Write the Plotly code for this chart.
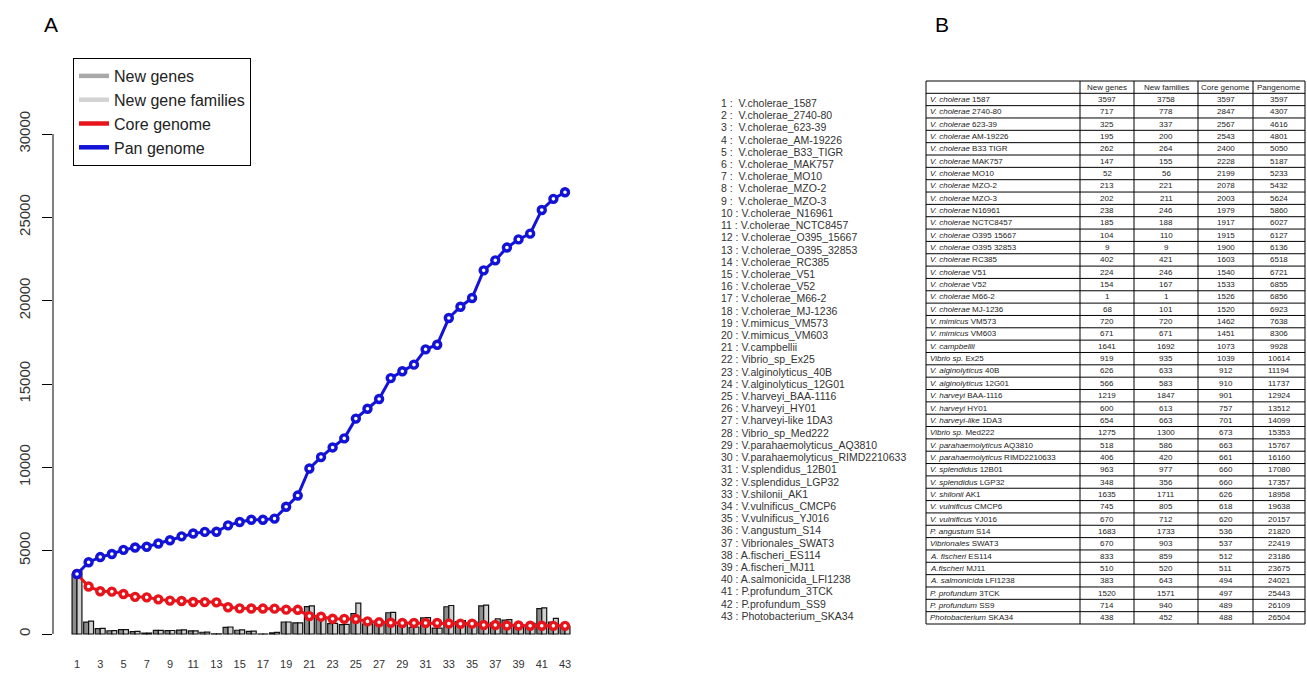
import plotly.graph_objects as go

W, H = 1307, 673

positions = list(range(1, 44))
x_tick_vals = list(range(1, 44, 2))
y_tick_vals = [0, 5000, 10000, 15000, 20000, 25000, 30000]

strain_labels = [
    "V.cholerae_1587", "V.cholerae_2740-80", "V.cholerae_623-39", "V.cholerae_AM-19226",
    "V.cholerae_B33_TIGR", "V.cholerae_MAK757", "V.cholerae_MO10", "V.cholerae_MZO-2",
    "V.cholerae_MZO-3", "V.cholerae_N16961", "V.cholerae_NCTC8457", "V.cholerae_O395_15667",
    "V.cholerae_O395_32853", "V.cholerae_RC385", "V.cholerae_V51", "V.cholerae_V52",
    "V.cholerae_M66-2", "V.cholerae_MJ-1236", "V.mimicus_VM573", "V.mimicus_VM603",
    "V.campbellii", "Vibrio_sp_Ex25", "V.alginolyticus_40B", "V.alginolyticus_12G01",
    "V.harveyi_BAA-1116", "V.harveyi_HY01", "V.harveyi-like 1DA3", "Vibrio_sp_Med222",
    "V.parahaemolyticus_AQ3810", "V.parahaemolyticus_RIMD2210633", "V.splendidus_12B01",
    "V.splendidus_LGP32", "V.shilonii_AK1", "V.vulnificus_CMCP6", "V.vulnificus_YJ016",
    "V.angustum_S14", "Vibrionales_SWAT3", "A.fischeri_ES114", "A.fischeri_MJ11",
    "A.salmonicida_LFI1238", "P.profundum_3TCK", "P.profundum_SS9", "Photobacterium_SKA34",
]

table_species = [
    "V. cholerae", "V. cholerae", "V. cholerae", "V. cholerae", "V. cholerae", "V. cholerae",
    "V. cholerae", "V. cholerae", "V. cholerae", "V. cholerae", "V. cholerae", "V. cholerae",
    "V. cholerae", "V. cholerae", "V. cholerae", "V. cholerae", "V. cholerae", "V. cholerae",
    "V. mimicus", "V. mimicus", "V. campbellii", "Vibrio sp.", "V. alginolyticus",
    "V. alginolyticus", "V. harveyi", "V. harveyi", "V. harveyi-like", "Vibrio sp.",
    "V. parahaemolyticus", "V. parahaemolyticus", "V. splendidus", "V. splendidus",
    "V. shilonii", "V. vulnificus", "V. vulnificus", "P. angustum", "Vibrionales",
    "A. fischeri", "A.fischeri", "A. salmonicida", "P. profundum", "P. profundum",
    "Photobacterium",
]
table_strains = [
    "1587", "2740-80", "623-39", "AM-19226", "B33 TIGR", "MAK757", "MO10", "MZO-2", "MZO-3",
    "N16961", "NCTC8457", "O395 15667", "O395 32853", "RC385", "V51", "V52", "M66-2",
    "MJ-1236", "VM573", "VM603", "", "Ex25", "40B", "12G01", "BAA-1116", "HY01", "1DA3",
    "Med222", "AQ3810", "RIMD2210633", "12B01", "LGP32", "AK1", "CMCP6", "YJ016", "S14",
    "SWAT3", "ES114", "MJ11", "LFI1238", "3TCK", "SS9", "SKA34",
]

new_genes = [3597, 717, 325, 195, 262, 147, 52, 213, 202, 238, 185, 104, 9, 402, 224, 154, 1, 68,
             720, 671, 1641, 919, 626, 566, 1219, 600, 654, 1275, 518, 406, 963, 348, 1635, 745,
             670, 1683, 670, 833, 510, 383, 1520, 714, 438]
new_families = [3758, 778, 337, 200, 264, 155, 56, 221, 211, 246, 188, 110, 9, 421, 246, 167, 1,
                101, 720, 671, 1692, 935, 633, 583, 1847, 613, 663, 1300, 586, 420, 977, 356, 1711,
                805, 712, 1733, 903, 859, 520, 643, 1571, 940, 452]
core_genome = [3597, 2847, 2567, 2543, 2400, 2228, 2199, 2078, 2003, 1979, 1917, 1915, 1900, 1603,
               1540, 1533, 1526, 1520, 1462, 1451, 1073, 1039, 912, 910, 901, 757, 701, 673, 663,
               661, 660, 660, 626, 618, 620, 536, 537, 512, 511, 494, 497, 489, 488]
pan_genome = [3597, 4307, 4616, 4801, 5050, 5187, 5233, 5432, 5624, 5860, 6027, 6127, 6136, 6518,
              6721, 6855, 6856, 6923, 7638, 8306, 9928, 10614, 11194, 11737, 12924, 13512, 14099,
              15353, 15767, 16160, 17080, 17357, 18958, 19638, 20157, 21820, 22419, 23186, 23675,
              24021, 25443, 26109, 26504]

table_header = ["", "New genes", "New families", "Core genome", "Pangenome"]

C_NEW = "#a9a9a9"
C_FAM = "#d3d3d3"
C_CORE = "#e8141b"
C_PAN = "#1212d8"
FONT = "Liberation Sans, Arial, sans-serif"


def px_x(v):
    return v / W


def px_y(v):
    return 1 - v / H


fig = go.Figure()

fig.add_trace(go.Bar(x=positions, y=new_genes, name="New genes", showlegend=False,
                     marker=dict(color="#8c8c8c", line=dict(color="#111111", width=1.2))))
fig.add_trace(go.Bar(x=positions, y=new_families, name="New gene families", showlegend=False,
                     marker=dict(color="#d0d0d0", line=dict(color="#111111", width=1.2))))

fig.add_trace(go.Scatter(x=positions, y=core_genome, mode="lines+markers", showlegend=False,
                         line=dict(color=C_CORE, width=3),
                         marker=dict(symbol="circle", size=7, color="white",
                                     line=dict(color=C_CORE, width=3.4))))
fig.add_trace(go.Scatter(x=positions, y=pan_genome, mode="lines+markers", showlegend=False,
                         line=dict(color=C_PAN, width=3),
                         marker=dict(symbol="circle", size=7, color="white",
                                     line=dict(color=C_PAN, width=3.4))))

# legend entries (line keys as in the reference)
for nm, col in [("New genes", C_NEW), ("New gene families", C_FAM),
                ("Core genome", C_CORE), ("Pan genome", C_PAN)]:
    fig.add_trace(go.Scatter(x=[None], y=[None], mode="lines", name=nm,
                             line=dict(color=col, width=4.5)))

# plot area geometry (margins zero, axes placed by domain so paper == full figure)
left_px, right_px, top_px, bottom_px = 53, 580, 50, 640
fig.update_layout(
    width=W, height=H,
    margin=dict(l=0, r=0, t=0, b=0),
    paper_bgcolor="white", plot_bgcolor="white",
    barmode="group", bargap=0.15, bargroupgap=0.0,
    font=dict(family=FONT, color="#222"),
    legend=dict(x=px_x(73), y=px_y(58), xanchor="left", yanchor="top",
                xref="paper", yref="paper",
                bgcolor="white", bordercolor="black", borderwidth=1,
                font=dict(size=16, family=FONT, color="#222"),
                itemwidth=30, tracegroupgap=0),
    xaxis=dict(domain=[px_x(left_px), px_x(right_px)], range=[-1.065, 44.29],
               tickvals=x_tick_vals, ticks="", showline=False,
               showgrid=False, zeroline=False, ticklabelstandoff=16,
               tickfont=dict(size=11, color="#333", family=FONT)),
    yaxis=dict(domain=[px_y(bottom_px), px_y(top_px)], range=[-360, 35040],
               tickvals=y_tick_vals, tickformat="d", ticks="outside", ticklen=10,
               tickcolor="black", showline=False, showgrid=False, zeroline=False,
               tickangle=-90, ticklabelstandoff=6,
               tickfont=dict(size=15, color="#333", family=FONT)),
)

shapes = [dict(type="line", xref="x domain", yref="y", x0=0, x1=0, y0=0, y1=30000,
               line=dict(color="black", width=1))]
annotations = [
    dict(text="A", x=px_x(42), y=px_y(25), xref="paper", yref="paper", showarrow=False,
         xanchor="left", yanchor="middle", font=dict(size=21, family=FONT, color="black")),
    dict(text="B", x=px_x(933), y=px_y(25), xref="paper", yref="paper", showarrow=False,
         xanchor="left", yanchor="middle", font=dict(size=21, family=FONT, color="black")),
]

# numbered strain list
for i, name in enumerate(strain_labels):
    n = i + 1
    label = f"{n} :  {name}" if n < 10 else f"{n} : {name}"
    annotations.append(dict(
        text=label, x=px_x(719), y=px_y(103 + i * 12.21), xref="paper", yref="paper",
        showarrow=False, xanchor="left", yanchor="middle",
        font=dict(size=10.5, family=FONT, color="#333")))

# table (panel B), drawn as grid lines + cell texts
col_edges = [926, 1080, 1134, 1198, 1253, 1305]
t_top, t_head, t_bottom = 81, 93.3, 624
n_rows = len(table_species)
row_h = (t_bottom - t_head) / n_rows
row_edges = [t_top, t_head] + [t_head + (k + 1) * row_h for k in range(n_rows)]
for ry in row_edges:
    shapes.append(dict(type="line", xref="paper", yref="paper",
                       x0=px_x(col_edges[0]), x1=px_x(col_edges[-1]), y0=px_y(ry), y1=px_y(ry),
                       line=dict(color="black", width=1)))
for cx in col_edges:
    shapes.append(dict(type="line", xref="paper", yref="paper",
                       x0=px_x(cx), x1=px_x(cx), y0=px_y(t_top), y1=px_y(t_bottom),
                       line=dict(color="black", width=1)))

TF = dict(size=8, family=FONT, color="#222")
for j, head in enumerate(table_header):
    if head:
        annotations.append(dict(text=head, x=px_x((col_edges[j] + col_edges[j + 1]) / 2),
                                y=px_y((t_top + t_head) / 2), xref="paper", yref="paper",
                                showarrow=False, xanchor="center", yanchor="middle",
                                font=TF, borderpad=0))
columns = [new_genes, new_families, core_genome, pan_genome]
for r in range(n_rows):
    cy = px_y(t_head + (r + 0.5) * row_h)
    first = f"<i>{table_species[r]}</i> {table_strains[r]}".strip()
    annotations.append(dict(text=first, x=px_x(col_edges[0] + 3), y=cy, xref="paper",
                            yref="paper", showarrow=False, xanchor="left", yanchor="middle",
                            font=TF, borderpad=0))
    for j, col in enumerate(columns):
        annotations.append(dict(text=str(col[r]),
                                x=px_x((col_edges[j + 1] + col_edges[j + 2]) / 2), y=cy,
                                xref="paper", yref="paper", showarrow=False,
                                xanchor="center", yanchor="middle", font=TF, borderpad=0))

fig.update_layout(shapes=shapes, annotations=annotations)

fig.write_html("out.html", config={"displayModeBar": False},
               post_script="document.body.style.margin='0px';document.body.style.overflow='hidden';")
